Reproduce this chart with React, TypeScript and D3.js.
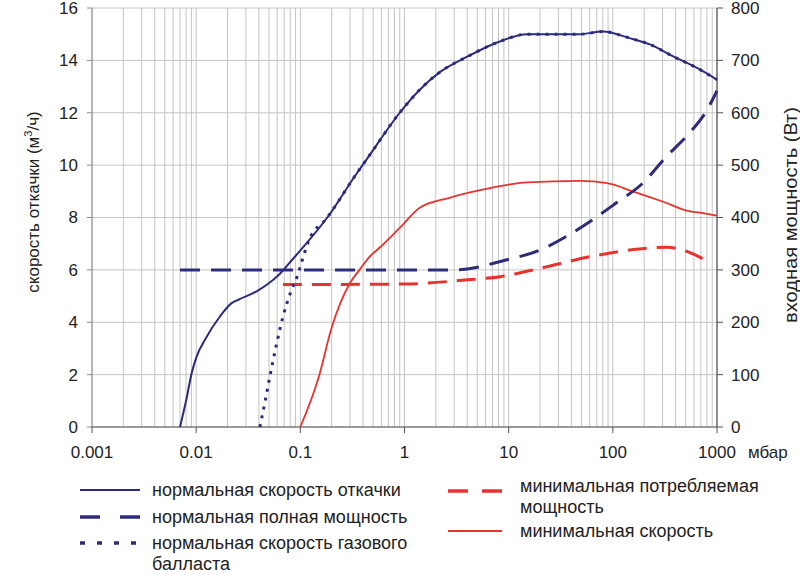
import React from "react";
import * as d3 from "d3";

// pressure (mbar) / value pairs
const normalSpeedP = [0.007, 0.008, 0.00906, 0.0101, 0.01214, 0.0169, 0.0219, 0.0254, 0.0381, 0.055, 0.0637, 0.08, 0.105, 0.18, 0.35, 0.43, 0.9, 1.4, 2.2, 4, 8.2, 15, 48, 80, 145, 230, 380, 650, 1000];
const normalSpeedV = [0, 1.0, 2.06, 2.69, 3.33, 4.22, 4.73, 4.86, 5.18, 5.62, 5.85, 6.3, 6.84, 7.98, 9.7, 10.2, 12.0, 12.88, 13.56, 14.14, 14.72, 15.0, 15.0, 15.1, 14.85, 14.6, 14.15, 13.7, 13.26];

const normalPowerP = [0.007, 3, 5, 8.3, 20, 60, 108, 195, 318, 525, 800, 1000];
const normalPowerW = [300, 300, 305, 316, 338, 392, 428, 466, 514, 558, 605, 642];

const gasBallastP = [0.0409, 0.046, 0.051, 0.0594, 0.068, 0.08, 0.093, 0.103, 0.12, 0.18, 0.35, 0.43, 0.9, 1.4, 2.2, 4, 8.2, 15, 48, 80, 145, 230, 380, 650, 1000];
const gasBallastV = [0, 1.0, 1.93, 3.2, 4.2, 5.1, 5.74, 6.3, 7.1, 7.98, 9.7, 10.2, 12.0, 12.88, 13.56, 14.14, 14.72, 15.0, 15.0, 15.1, 14.85, 14.6, 14.15, 13.7, 13.26];

const minPowerP = [0.068, 1, 4, 8.3, 20, 60, 180, 330, 550, 800];
const minPowerW = [272, 273, 281, 287, 303, 325, 340, 343, 333, 317];

const minSpeedP = [0.1, 0.15, 0.2, 0.3, 0.37, 0.45, 0.62, 0.9, 1.4, 2.7, 5.6, 15, 48, 88, 155, 300, 550, 730, 1000];
const minSpeedV = [0, 1.9, 3.8, 5.5, 6.0, 6.45, 6.96, 7.6, 8.37, 8.75, 9.06, 9.34, 9.4, 9.31, 9.0, 8.61, 8.23, 8.17, 8.07];

const xTickLabels = ["0.001", "0.01", "0.1", "1", "10", "100", "1000"];
const leftTicks = [0, 2, 4, 6, 8, 10, 12, 14, 16];
const rightTicks = [0, 100, 200, 300, 400, 500, 600, 700, 800];

const NAVY = "#2d2c7c";
const RED = "#e8322f";
const FONT = "'Liberation Sans', Arial, sans-serif";

export default function App() {
  const x = d3.scaleLog().domain([0.001, 1000]).range([92, 717]);
  const yL = d3.scaleLinear().domain([0, 16]).range([427, 8]);
  const yR = d3.scaleLinear().domain([0, 800]).range([427, 8]);

  const mk = (ps: number[], vs: number[], ys: any) =>
    d3
      .line<number>()
      .x((_, i) => x(ps[i]))
      .y((v) => ys(v))
      .curve(d3.curveMonotoneX)(vs) as string;

  const minor: number[] = [];
  for (let e = -3; e < 3; e++) {
    for (let m = 1; m < 10; m++) minor.push(m * Math.pow(10, e));
  }
  minor.push(1000);

  return (
    <svg width={800} height={575} style={{ position: "absolute", left: 0, top: 0, background: "#fff" }} fontFamily={FONT}>
      {/* grid */}
      {minor.map((v, i) => (
        <line key={"v" + i} x1={x(v)} x2={x(v)} y1={8} y2={427} stroke="#c4c4c4" strokeWidth={1} />
      ))}
      {leftTicks.map((v) => (
        <line key={"h" + v} x1={92} x2={717} y1={yL(v)} y2={yL(v)} stroke="#c4c4c4" strokeWidth={1} />
      ))}
      {/* axes */}
      <line x1={92} x2={92} y1={8} y2={427} stroke="#8a8a8a" strokeWidth={1} />
      <line x1={92} x2={717} y1={427} y2={427} stroke="#555" strokeWidth={1.2} />
      <line x1={717} x2={717} y1={8} y2={427} stroke="#555" strokeWidth={1.2} />
      {leftTicks.map((v) => (
        <line key={"lt" + v} x1={87} x2={92} y1={yL(v)} y2={yL(v)} stroke="#8a8a8a" />
      ))}
      {rightTicks.map((v) => (
        <line key={"rt" + v} x1={717} x2={723} y1={yR(v)} y2={yR(v)} stroke="#555" />
      ))}
      {xTickLabels.map((t) => (
        <line key={"bt" + t} x1={x(+t)} x2={x(+t)} y1={427} y2={433} stroke="#555" />
      ))}
      {/* tick labels */}
      {leftTicks.map((v) => (
        <text key={"ll" + v} x={78} y={yL(v)} dy="0.35em" textAnchor="end" fontSize={17} fill="#222">
          {v}
        </text>
      ))}
      {rightTicks.map((v) => (
        <text key={"rl" + v} x={731} y={yR(v)} dy="0.35em" textAnchor="start" fontSize={17} fill="#222">
          {v}
        </text>
      ))}
      {xTickLabels.map((t) => (
        <text key={"xl" + t} x={x(+t)} y={458} textAnchor="middle" fontSize={17} fill="#222">
          {t}
        </text>
      ))}
      <text x={748} y={458} fontSize={17} fill="#222">мбар</text>
      <text transform="translate(39,202) rotate(-90)" textAnchor="middle" fontSize={17} fill="#222">
        скорость откачки (м<tspan dy="-7" fontSize={11}>3</tspan><tspan dy="7">/ч)</tspan>
      </text>
      <text transform="translate(797,215) rotate(-90)" textAnchor="middle" fontSize={19} fill="#222" textLength={216} lengthAdjust="spacingAndGlyphs">
        входная мощность (Вт)
      </text>

      {/* series */}
      <path d={mk(minPowerP, minPowerW, yR)} fill="none" stroke={RED} strokeWidth={3} strokeDasharray="19,10" />
      <path d={mk(minSpeedP, minSpeedV, yL)} fill="none" stroke={RED} strokeWidth={1.8} />
      <path d={mk(normalPowerP, normalPowerW, yR)} fill="none" stroke={NAVY} strokeWidth={3} strokeDasharray="20,11" />
      <path d={mk(normalSpeedP, normalSpeedV, yL)} fill="none" stroke={NAVY} strokeWidth={2} />
      <path d={mk(gasBallastP, gasBallastV, yL)} fill="none" stroke={NAVY} strokeWidth={3} strokeDasharray="3,6" />

      {/* legend */}
      <g fontSize={18} fill="#222">
        <line x1={80} x2={140} y1={490} y2={490} stroke={NAVY} strokeWidth={2} />
        <text x={152} y={490} dy="0.35em">нормальная скорость откачки</text>
        <line x1={80} x2={140} y1={517} y2={517} stroke={NAVY} strokeWidth={3.5} strokeDasharray="20,20" />
        <text x={152} y={517} dy="0.35em">нормальная полная мощность</text>
        <line x1={80} x2={140} y1={543} y2={543} stroke={NAVY} strokeWidth={3.5} strokeDasharray="5,12" />
        <text x={152} y={543} dy="0.35em">нормальная скорость газового</text>
        <text x={152} y={564} dy="0.35em">балласта</text>
        <line x1={448} x2={502} y1={491} y2={491} stroke={RED} strokeWidth={3.5} strokeDasharray="20,14" />
        <text x={520} y={486} dy="0.35em">минимальная потребляемая</text>
        <text x={520} y={507} dy="0.35em">мощность</text>
        <line x1={448} x2={502} y1={531} y2={531} stroke={RED} strokeWidth={2} />
        <text x={520} y={531} dy="0.35em">минимальная скорость</text>
      </g>
    </svg>
  );
}
